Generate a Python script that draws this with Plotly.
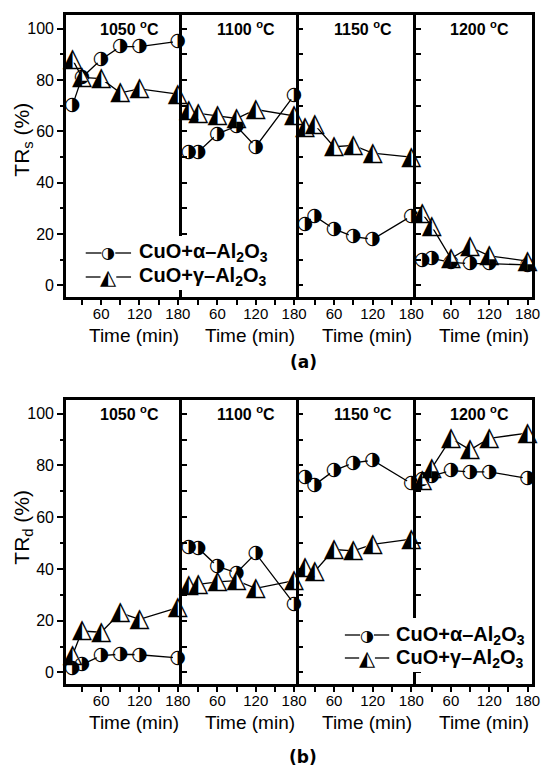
import plotly.graph_objects as go

W, H = 546, 768

times = [15, 30, 60, 90, 120, 180]
temps = ["1050", "1100", "1150", "1200"]

# TRs (%) -- panel (a)
trs_alpha = [
    [70, 81, 88, 93, 93, 95],
    [52, 52, 59, 62, 54, 74],
    [24, 27, 22, 19, 18, 27],
    [10, 10.5, 9, 8.5, 8.5, 8],
]
trs_gamma = [
    [88, 81, 80.5, 75, 76.5, 74.5],
    [68, 67, 66, 65, 68.5, 66],
    [61.5, 62.5, 54, 54.5, 51.5, 50],
    [28, 23, 10.5, 15, 11.5, 9.5],
]
# TRd (%) -- panel (b)
trd_alpha = [
    [1.5, 3, 6.5, 7, 6.8, 5.6],
    [48.5, 48, 41, 38.5, 46, 26.5],
    [75.5, 72.5, 78, 81, 82, 73],
    [74.5, 76, 78, 77.5, 77.5, 75],
]
trd_gamma = [
    [6.5, 16, 15.5, 23, 20.5, 25],
    [33.5, 34, 35, 35.5, 32.5, 35.5],
    [40.5, 39, 47.5, 47, 49.5, 51.5],
    [74, 79, 90.5, 86, 90.5, 92.5],
]

x_tickvals = [60, 120, 180]
x_minorvals = [30, 90, 150]
y_tickvals = [0, 20, 40, 60, 80, 100]
y_minorvals = [10, 30, 50, 70, 90]

series_names = ["CuO+α–Al<sub>2</sub>O<sub>3</sub>", "CuO+γ–Al<sub>2</sub>O<sub>3</sub>"]

# layout geometry (pixels)
panel_px = [(67, 185), (185, 303), (303, 422), (422, 540)]
rows_px = [(15, 297), (400, 684)]
XR = [5, 187]
YR = [-4.5, 105.3]

TXT = "Liberation Sans, Arial, sans-serif"
GLY = "DejaVu Sans"

# glyph, white-fill marker symbol, glyph size, fill marker size
series_style = [
    ("◑", "circle", 19, 10),
    ("◭", "triangle-up", 26, 13),
]

fig = go.Figure()
layout = {}


def px2fx(x):
    return x / W


def px2fy(y):
    return 1 - y / H


for r, rowdata in enumerate([(trs_alpha, trs_gamma), (trd_alpha, trd_gamma)]):
    y0, y1 = rows_px[r]
    for c in range(4):
        i = r * 4 + c + 1
        xa = "xaxis" if i == 1 else f"xaxis{i}"
        ya = "yaxis" if i == 1 else f"yaxis{i}"
        xs = "x" if i == 1 else f"x{i}"
        ys = "y" if i == 1 else f"y{i}"
        x0, x1 = panel_px[c]
        layout[xa] = dict(
            domain=[px2fx(x0), px2fx(x1)], anchor=ys, range=XR,
            tickmode="array", tickvals=x_tickvals,
            ticks="outside", ticklen=5, tickwidth=1.5, tickcolor="black",
            minor=dict(tickmode="array", tickvals=x_minorvals, ticks="outside",
                       ticklen=5, tickwidth=1.5, tickcolor="black"),
            showline=True, linewidth=2.5, linecolor="black", mirror=True,
            showgrid=False, zeroline=False, ticklabelstandoff=-4,
            tickfont=dict(family=TXT, size=15, color="black"),
        )
        yd = dict(
            domain=[px2fy(y1), px2fy(y0)], anchor=xs, range=YR,
            showline=True, linewidth=2.6, linecolor="black", mirror=(c == 3),
            showgrid=False, zeroline=False,
        )
        if c == 0:
            yd.update(
                tickmode="array", tickvals=y_tickvals,
                ticks="outside", ticklen=6, tickwidth=1.5, tickcolor="black",
                tickfont=dict(family=TXT, size=16, color="black"),
                minor=dict(tickmode="array", tickvals=y_minorvals, ticks="outside",
                           ticklen=3, tickwidth=1.5, tickcolor="black"),
            )
        else:
            yd.update(
                tickmode="linear", tick0=0, dtick=10,
                ticks="inside", ticklen=5, tickwidth=1.5, tickcolor="black",
                showticklabels=False,
            )
        layout[ya] = yd

        for vals, (g, sym, gsz, msz) in zip((rowdata[0][c], rowdata[1][c]), series_style):
            fig.add_trace(go.Scatter(
                x=times, y=vals, xaxis=xs, yaxis=ys, mode="lines+markers+text",
                line=dict(color="black", width=1.3),
                marker=dict(symbol=sym, size=msz, color="white", line=dict(width=0)),
                text=[g] * len(vals), textposition="middle center",
                textfont=dict(family=GLY, size=gsz, color="black"),
                showlegend=False, hoverinfo="skip", cliponaxis=False,
            ))

annotations = []
shapes = []

# panel titles and x-axis titles
for r in range(2):
    for c in range(4):
        i = r * 4 + c + 1
        xs = "x" if i == 1 else f"x{i}"
        ys = "y" if i == 1 else f"y{i}"
        annotations.append(dict(
            xref=f"{xs} domain", yref=f"{ys} domain", x=0.55, y=0.965, yshift=-3,
            xanchor="center", yanchor="middle", showarrow=False,
            text=f"<b>{temps[c]} <sup>o</sup>C</b>",
            font=dict(family=TXT, size=16, color="black"),
        ))
        annotations.append(dict(
            xref=f"{xs} domain", yref=f"{ys} domain", x=0.5, y=0,
            xshift=10, yshift=-38, xanchor="center", yanchor="middle",
            showarrow=False, text="Time (min)",
            font=dict(family=TXT, size=19, color="black"),
        ))

# y-axis titles
annotations.append(dict(xref="paper", yref="paper", x=px2fx(23), y=px2fy(140),
                        textangle=-90, showarrow=False, xanchor="center", yanchor="middle",
                        text="TR<sub>s</sub> (%)", font=dict(family=TXT, size=21, color="black")))
annotations.append(dict(xref="paper", yref="paper", x=px2fx(23), y=px2fy(527),
                        textangle=-90, showarrow=False, xanchor="center", yanchor="middle",
                        text="TR<sub>d</sub> (%)", font=dict(family=TXT, size=21, color="black")))

# (a), (b)
annotations.append(dict(xref="paper", yref="paper", x=px2fx(308), y=px2fy(362),
                        showarrow=False, xanchor="center", yanchor="middle",
                        text="<b>(a)</b>", font=dict(family=GLY, size=17, color="black")))
annotations.append(dict(xref="paper", yref="paper", x=px2fx(308), y=px2fy(757),
                        showarrow=False, xanchor="center", yanchor="middle",
                        text="<b>(b)</b>", font=dict(family=GLY, size=17, color="black")))

# legends (drawn by hand: half-filled glyphs)
legends = [
    dict(box=(75, 236, 280, 290), line=(87, 133), text_x=139, rows=[253, 277]),
    dict(box=(340, 618, 534, 672), line=(350, 395), text_x=400, rows=[635, 658]),
]
leg_glyphs = [("◑", 16, 7), ("◭", 21, 8)]
for lg in legends:
    bx0, by0, bx1, by1 = lg["box"]
    shapes.append(dict(type="rect", xref="paper", yref="paper", layer="above",
                       x0=px2fx(bx0), x1=px2fx(bx1), y0=px2fy(by1), y1=px2fy(by0),
                       fillcolor="white", line=dict(width=0)))
    lx0, lx1 = lg["line"]
    cx = (lx0 + lx1) / 2
    for k, yy in enumerate(lg["rows"]):
        g, gs, half = leg_glyphs[k]
        for sx0, sx1 in [(lx0, cx - half), (cx + half, lx1)]:
            shapes.append(dict(type="line", xref="paper", yref="paper", layer="above",
                               x0=px2fx(sx0), x1=px2fx(sx1), y0=px2fy(yy), y1=px2fy(yy),
                               line=dict(color="black", width=1.3)))
        annotations.append(dict(xref="paper", yref="paper", x=px2fx(cx),
                                y=px2fy(yy), showarrow=False, xanchor="center",
                                yanchor="middle", text=g,
                                font=dict(family=GLY, size=gs, color="black")))
        annotations.append(dict(xref="paper", yref="paper", x=px2fx(lg["text_x"]),
                                y=px2fy(yy), showarrow=False, xanchor="left",
                                yanchor="middle", text=f"<b>{series_names[k]}</b>",
                                font=dict(family=TXT, size=20, color="black")))

fig.update_layout(
    width=W, height=H, margin=dict(l=0, r=0, t=0, b=0),
    paper_bgcolor="white", plot_bgcolor="rgba(0,0,0,0)",
    showlegend=False, annotations=annotations, shapes=shapes,
    **layout,
)

fig.write_html("out.html")
